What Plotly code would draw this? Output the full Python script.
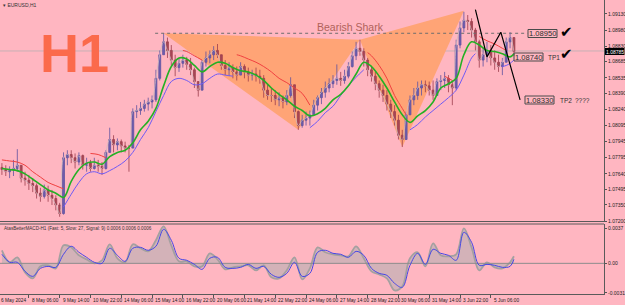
import plotly.graph_objects as go

W, H = 625, 305
BG = "#FFB6C1"

# ---------------- price data (EURUSD H1, grouped in 4-hour buckets) ----------------
bar_high = [1.0774, 1.0772, 1.0771, 1.0777, 1.0787, 1.0771, 1.0766, 1.0763, 1.0760, 1.0755,
            1.0751, 1.0754, 1.0753, 1.0749, 1.0744, 1.0737, 1.0784, 1.0786, 1.0786, 1.0783,
            1.0784, 1.0782, 1.0779, 1.0777, 1.0779, 1.0777, 1.0775, 1.0786, 1.0807, 1.0800,
            1.0797, 1.0796, 1.0794, 1.0791, 1.0825, 1.0828, 1.0831, 1.0833, 1.0835, 1.0837,
            1.0861, 1.0879, 1.0895, 1.0891, 1.0884, 1.0875, 1.0872, 1.0875, 1.0873, 1.0872,
            1.0863, 1.0850, 1.0870, 1.0878, 1.0879, 1.0883, 1.0885, 1.0875, 1.0870, 1.0868,
            1.0866, 1.0864, 1.0868, 1.0866, 1.0863, 1.0861, 1.0863, 1.0861, 1.0856, 1.0847,
            1.0844, 1.0842, 1.0840, 1.0837, 1.0842, 1.0854, 1.0844, 1.0823, 1.0819, 1.0822,
            1.0823, 1.0833, 1.0837, 1.0844, 1.0850, 1.0853, 1.0856, 1.0866, 1.0859, 1.0861,
            1.0868, 1.0878, 1.0887, 1.0889, 1.0881, 1.0872, 1.0864, 1.0859, 1.0851, 1.0847,
            1.0842, 1.0833, 1.0828, 1.0819, 1.0805, 1.0822, 1.0837, 1.0844, 1.0850, 1.0851,
            1.0851, 1.0850, 1.0851, 1.0853, 1.0856, 1.0859, 1.0856, 1.0851, 1.0889, 1.0906,
            1.0915, 1.0912, 1.0909, 1.0900, 1.0889, 1.0881, 1.0887, 1.0884, 1.0879, 1.0875,
            1.0872, 1.0891, 1.0896, 1.0891]
bar_low = [1.0763, 1.0762, 1.0760, 1.0762, 1.0766, 1.0756, 1.0753, 1.0749, 1.0747, 1.0741,
           1.0738, 1.0741, 1.0738, 1.0735, 1.0730, 1.0724, 1.0726, 1.0772, 1.0774, 1.0769,
           1.0772, 1.0768, 1.0766, 1.0766, 1.0768, 1.0766, 1.0763, 1.0768, 1.0784, 1.0784,
           1.0786, 1.0784, 1.0784, 1.0766, 1.0788, 1.0816, 1.0819, 1.0822, 1.0823, 1.0825,
           1.0831, 1.0851, 1.0875, 1.0872, 1.0865, 1.0855, 1.0859, 1.0863, 1.0861, 1.0856,
           1.0844, 1.0836, 1.0842, 1.0864, 1.0867, 1.0870, 1.0872, 1.0861, 1.0856, 1.0855,
           1.0853, 1.0851, 1.0857, 1.0853, 1.0850, 1.0851, 1.0850, 1.0848, 1.0835, 1.0833,
           1.0831, 1.0828, 1.0827, 1.0825, 1.0828, 1.0835, 1.0816, 1.0805, 1.0807, 1.0809,
           1.0809, 1.0819, 1.0823, 1.0829, 1.0835, 1.0840, 1.0844, 1.0847, 1.0846, 1.0848,
           1.0853, 1.0863, 1.0870, 1.0874, 1.0864, 1.0855, 1.0850, 1.0842, 1.0835, 1.0831,
           1.0823, 1.0816, 1.0809, 1.0796, 1.0789, 1.0796, 1.0819, 1.0828, 1.0833, 1.0837,
           1.0840, 1.0837, 1.0833, 1.0837, 1.0842, 1.0844, 1.0840, 1.0828, 1.0842, 1.0881,
           1.0896, 1.0898, 1.0891, 1.0879, 1.0863, 1.0864, 1.0868, 1.0865, 1.0861, 1.0859,
           1.0856, 1.0868, 1.0881, 1.0874]
bar_close = [1.0768, 1.0766, 1.0768, 1.0769, 1.0772, 1.0760, 1.0758, 1.0755, 1.0753, 1.0746,
             1.0743, 1.0749, 1.0744, 1.0741, 1.0735, 1.0727, 1.0779, 1.0782, 1.0779, 1.0775,
             1.0781, 1.0772, 1.0774, 1.0769, 1.0772, 1.0771, 1.0769, 1.0784, 1.0796, 1.0791,
             1.0794, 1.0790, 1.0788, 1.0788, 1.0822, 1.0823, 1.0825, 1.0829, 1.0831, 1.0833,
             1.0853, 1.0875, 1.0887, 1.0879, 1.0870, 1.0863, 1.0867, 1.0870, 1.0866, 1.0861,
             1.0850, 1.0842, 1.0868, 1.0872, 1.0875, 1.0879, 1.0875, 1.0865, 1.0861, 1.0863,
             1.0859, 1.0856, 1.0864, 1.0859, 1.0856, 1.0857, 1.0855, 1.0853, 1.0842, 1.0837,
             1.0837, 1.0833, 1.0835, 1.0831, 1.0837, 1.0847, 1.0822, 1.0809, 1.0814, 1.0816,
             1.0819, 1.0828, 1.0835, 1.0840, 1.0844, 1.0848, 1.0851, 1.0853, 1.0851, 1.0855,
             1.0864, 1.0874, 1.0881, 1.0878, 1.0870, 1.0861, 1.0855, 1.0848, 1.0842, 1.0837,
             1.0829, 1.0822, 1.0814, 1.0800, 1.0796, 1.0819, 1.0833, 1.0837, 1.0844, 1.0847,
             1.0846, 1.0842, 1.0837, 1.0850, 1.0851, 1.0853, 1.0847, 1.0844, 1.0884, 1.0900,
             1.0907, 1.0906, 1.0898, 1.0887, 1.0870, 1.0875, 1.0879, 1.0872, 1.0868, 1.0864,
             1.0868, 1.0887, 1.0891, 1.0878]
first_open = 1.0770

# ---------------- moving averages / bands ----------------
ma_bar = [0, 2, 4, 6, 8, 10, 12, 14, 16, 18, 20, 22, 24, 26, 28, 30, 32, 34, 36, 38,
          40, 42, 44, 46, 48, 50, 52, 54, 56, 58, 60, 62, 64, 66, 68, 70, 72, 74, 76, 78,
          80, 82, 84, 86, 88, 90, 92, 94, 96, 98, 100, 102, 104, 106, 108, 110, 112, 114,
          116, 118, 120, 122, 124, 126, 128, 130, 132, 133]
ma_green = [1.0769, 1.0768, 1.0767, 1.0764, 1.0759, 1.0754, 1.0749, 1.0746, 1.0742, 1.0757,
            1.0768, 1.0774, 1.0775, 1.0773, 1.0780, 1.0784, 1.0786, 1.0793, 1.0805, 1.0813,
            1.0825, 1.0846, 1.0864, 1.0872, 1.0871, 1.0865, 1.0859, 1.0864, 1.0868, 1.0867,
            1.0863, 1.0860, 1.0859, 1.0856, 1.0851, 1.0844, 1.0838, 1.0833, 1.0827, 1.0823,
            1.0818, 1.0820, 1.0825, 1.0833, 1.0838, 1.0846, 1.0857, 1.0868, 1.0864, 1.0855,
            1.0844, 1.0831, 1.0819, 1.0812, 1.0818, 1.0823, 1.0831, 1.0844, 1.0848, 1.0853,
            1.0875, 1.0887, 1.0884, 1.0879, 1.0878, 1.0876, 1.0873, 1.0876]

band_red_bar = [0, 2, 4, 6, 8, 10, 12, 14, 16, None,
                23, 25, 27, None,
                47, 48, 50, 52, None,
                61, 62, 64, 66, 68, 70, 72, 74, 76, 78, 80, None,
                95, 96, 98, 100, 102, 104, 105, None,
                115, 116, 117, None,
                124, 126, 128, 130, 131]
band_red = [1.0777, 1.0776, 1.0775, 1.0772, 1.0766, 1.0761, 1.0756, 1.0753, 1.0750, None,
            1.0783, 1.0782, 1.0779, None,
            1.0879, 1.0878, 1.0874, 1.0870, None,
            1.0875, 1.0874, 1.0871, 1.0868, 1.0864, 1.0859, 1.0853, 1.0849, 1.0844, 1.0839, 1.0828, None,
            1.0877, 1.0874, 1.0865, 1.0853, 1.0837, 1.0825, 1.0819, None,
            1.0855, 1.0853, 1.0851, None,
            1.0892, 1.0888, 1.0885, 1.0881, 1.0879]

band_blue_bar = [16, 18, 20, 22, 24, 26, 28, 30, 32, 34, 36, 38, 40, 42, 44, 46, 48, 50,
                 52, 54, 56, 58, 60, None,
                 80, 82, 84, 86, 88, 90, 92, 94, None,
                 106, 108, 110, 112, 114, 116, 118, 120, 122, 123, None,
                 130, 131, 132, 133]
band_blue = [1.0733, 1.0745, 1.0756, 1.0764, 1.0766, 1.0764, 1.0767, 1.0771, 1.0776, 1.0784,
             1.0796, 1.0807, 1.0822, 1.0837, 1.0850, 1.0853, 1.0851, 1.0847, 1.0848, 1.0853,
             1.0857, 1.0856, 1.0855, None,
             1.0807, 1.0813, 1.0821, 1.0827, 1.0837, 1.0846, 1.0854, 1.0861, None,
             1.0805, 1.0810, 1.0817, 1.0823, 1.0829, 1.0835, 1.0842, 1.0856, 1.0872, 1.0876, None,
             1.0864, 1.0865, 1.0867, 1.0870]

# ---------------- MACD sub-window ----------------
macd_main = [0.00095, 0.00011, 0.00011, -0.00084, -0.00137, -0.00053, -0.00032, -0.00042, 0.00095, 0.00179,
             0.00116, 0.00063, 0.00011, 0.0, 0.00158, 0.00084, 0.00021, 0.00158, 0.00168, 0.00137,
             0.00179, 0.00357, 0.00242, 0.00053, 0.00032, -0.00011, -0.00063, 0.00053, 0.00063, -0.00042,
             -0.00053, -0.00042, -0.00011, -0.00053, -0.00032, -0.00116, -0.00147, -0.00105, 0.00011, -0.00137,
             -0.00105, 0.00116, 0.00137, 0.00105, 0.00095, 0.00063, 0.00126, 0.00084, -0.00053, -0.00105,
             -0.00126, -0.0021, -0.00252, -0.00021, 0.00105, -0.00011, 0.00147, 0.00105, 0.00084, 0.00032,
             0.00326, 0.00221, -0.00021, -0.00011, -0.00021, -0.00042, -0.00032, 0.00042]
macd_signal = [0.00137, 0.00011, 0.00063, -0.00095, -0.00158, -0.00032, -0.00021, -0.00053, 0.00189, 0.00168,
               0.00084, 0.00042, 0.0, 0.00032, 0.0020, 0.00053, 0.00011, 0.0020, 0.00158, 0.00126,
               0.00242, 0.00389, 0.00189, 0.00021, 0.00021, -0.00032, -0.00032, 0.00105, 0.00042, -0.00063,
               -0.00042, -0.00032, -0.00021, -0.00074, -0.00021, -0.00147, -0.00158, -0.00074, 0.00063, -0.00168,
               -0.00053, 0.00168, 0.00116, 0.00095, 0.00084, 0.00074, 0.00179, 0.00053, -0.00084, -0.00116,
               -0.00158, -0.00284, -0.00242, 0.00053, 0.00116, -0.00032, 0.0021, 0.00084, 0.00074, 0.00095,
               0.00368, 0.00168, -0.00074, 0.00011, -0.00042, -0.00053, 0.00011, 0.00074]

# ---------------- pattern drawing ----------------
pattern_bar = [42, 77, 93, 104, 120]                      # X, A, B, C, D
pattern_price = [1.0895, 1.0805, 1.0889, 1.0789, 1.0916]
proj_bar = [123, 126, 129.6, 134.6]
proj_price = [1.0917, 1.0873, 1.0896, 1.0833]
level_start_bar = 39.8
level_end_bar = 136.5
target_prices = [1.08950, 1.08740, 1.08330]
current_price = 1.08785

price_ticks = [1.09130, 1.08980, 1.08830, 1.08685, 1.08535, 1.08390, 1.08240,
               1.08095, 1.07945, 1.07795, 1.07640, 1.07495, 1.07350, 1.07200]
macd_ticks = [0.0037, 0.0, -0.0031]
macd_tick_text = ["0.0037", "0.00", "-0.0031"]
time_tick_bar = [7, 15, 23, 31, 39, 47, 55, 63, 71, 79, 87, 95, 103, 111, 119, 127]
time_tick_text = ["8 May 06:00", "9 May 14:00", "10 May 22:00", "14 May 06:00", "15 May 14:00",
                  "16 May 22:00", "20 May 06:00", "21 May 14:00", "22 May 22:00", "24 May 06:00",
                  "27 May 14:00", "28 May 22:00", "30 May 06:00", "31 May 14:00", "3 Jun 22:00",
                  "5 Jun 06:00"]

# ---------------- geometry helpers ----------------
PLOT_R = 604.0
X_RANGE = [-0.5, 156.4]
Y_RANGE = [1.07196, 1.09260]
M_RANGE = [-0.00322, 0.00413]


def fx(px):
    return px / W


def fy(py):
    return 1 - py / H


def bar_to_px(b):
    return (b - X_RANGE[0]) / (X_RANGE[1] - X_RANGE[0]) * PLOT_R


n = len(bar_close)
bars = list(range(n))
bar_open = [first_open] + bar_close[:-1]
hi = [max(h, o, c) for h, o, c in zip(bar_high, bar_open, bar_close)]
lo = [min(l, o, c) for l, o, c in zip(bar_low, bar_open, bar_close)]

fig = go.Figure()

# dotted X level
fig.add_trace(go.Scatter(x=[level_start_bar, level_end_bar], y=[target_prices[0]] * 2,
                         mode="lines", line=dict(color="#6e6e6e", width=1, dash="dot"),
                         hoverinfo="skip"))

# candles
fig.add_trace(go.Candlestick(
    x=bars, open=bar_open, high=hi, low=lo, close=bar_close,
    increasing=dict(line=dict(color="#5e50a0", width=0.8), fillcolor="#6e5eae"),
    decreasing=dict(line=dict(color="#9c3e4c", width=0.8), fillcolor="#a84856"),
    whiskerwidth=0, hoverinfo="skip", yaxis="y"))

# fast line through closes
fig.add_trace(go.Scatter(x=bars, y=bar_close, mode="lines",
                         line=dict(color="rgba(205,185,192,0.8)", width=1, shape="spline"),
                         hoverinfo="skip"))
# bands and green MA
fig.add_trace(go.Scatter(x=band_red_bar, y=band_red, mode="lines", connectgaps=False,
                         line=dict(color="#f04040", width=1, shape="spline"), hoverinfo="skip"))
fig.add_trace(go.Scatter(x=band_blue_bar, y=band_blue, mode="lines", connectgaps=False,
                         line=dict(color="#6f5af5", width=1, shape="spline"), hoverinfo="skip"))
fig.add_trace(go.Scatter(x=ma_bar, y=ma_green, mode="lines",
                         line=dict(color="#24b024", width=1.6, shape="spline"), hoverinfo="skip"))

# projection zigzag
fig.add_trace(go.Scatter(x=proj_bar, y=proj_price, mode="lines",
                         line=dict(color="#000000", width=1.2), hoverinfo="skip"))

# MACD
fig.add_trace(go.Scatter(x=ma_bar, y=macd_signal, yaxis="y2", mode="lines", fill="tozeroy",
                         fillcolor="rgba(196,176,180,0.75)",
                         line=dict(color="#a4a0a0", width=1.8, shape="spline"), hoverinfo="skip"))
fig.add_trace(go.Scatter(x=[X_RANGE[0], X_RANGE[1]], y=[0, 0], yaxis="y2", mode="lines",
                         line=dict(color="#8c8c8c", width=1), hoverinfo="skip"))
fig.add_trace(go.Scatter(x=ma_bar, y=macd_main, yaxis="y2", mode="lines",
                         line=dict(color="#4646e6", width=1, shape="spline"), hoverinfo="skip"))

TICKFONT = dict(family="Liberation Sans", size=5, color="#222222")

fig.update_layout(
    width=W, height=H, margin=dict(l=0, r=0, t=0, b=0),
    paper_bgcolor=BG, plot_bgcolor=BG, showlegend=False,
    xaxis=dict(domain=[0, PLOT_R / W], range=X_RANGE, anchor="y2", showgrid=False,
               zeroline=False, rangeslider=dict(visible=False), tickvals=time_tick_bar,
               ticktext=[""] * len(time_tick_bar), ticks="outside", ticklen=3,
               tickcolor="#555555", showline=True, linecolor="#5a5a5a", linewidth=1),
    yaxis=dict(domain=[fy(221.5), 1], range=Y_RANGE, side="right", anchor="x",
               showgrid=False, zeroline=False, tickvals=price_ticks,
               ticktext=["%.5f" % v for v in price_ticks], ticks="outside", ticklen=2,
               tickcolor="#555555", tickfont=TICKFONT, showline=True, linecolor="#5a5a5a",
               automargin=False),
    yaxis2=dict(domain=[fy(294), fy(224)], range=M_RANGE, side="right", anchor="x",
                showgrid=False, zeroline=False, tickvals=macd_ticks, ticktext=macd_tick_text,
                ticks="outside", ticklen=2, tickcolor="#555555", tickfont=TICKFONT,
                showline=True, linecolor="#5a5a5a", automargin=False),
)

shapes = []
# harmonic pattern triangles, drawn beneath the candles
for tri in [(0, 1, 2), (2, 3, 4)]:
    pts = [(pattern_bar[k], pattern_price[k]) for k in tri]
    path = "M %s,%s L %s,%s L %s,%s Z" % (pts[0] + pts[1] + pts[2])
    shapes.append(dict(type="path", path=path, xref="x", yref="y", layer="below",
                       fillcolor="#FFA476", line=dict(width=0)))
# current price line
shapes.append(dict(type="line", xref="paper", yref="y", x0=0, x1=fx(PLOT_R),
                   y0=current_price, y1=current_price, layer="below",
                   line=dict(color="#c7b0b4", width=1)))
for yy in (221.5, 224):
    shapes.append(dict(type="line", xref="paper", yref="paper", x0=0, x1=fx(PLOT_R),
                       y0=fy(yy), y1=fy(yy), line=dict(color="#5a5a5a", width=1)))
# target boxes
box_geo = [(528, 557, 29.5, 37.5), (514, 543, 53, 61), (525, 554, 96, 104)]
for (x0, x1, y0, y1) in box_geo:
    shapes.append(dict(type="rect", xref="paper", yref="paper", x0=fx(x0), x1=fx(x1),
                       y0=fy(y1), y1=fy(y0), line=dict(color="#4a4a4a", width=1)))
# current price tag
shapes.append(dict(type="rect", xref="paper", yref="paper", x0=fx(605), x1=fx(624.5),
                   y0=fy(55), y1=fy(48), fillcolor="#000000", line=dict(width=0)))
fig.update_layout(shapes=shapes)

ann = []
ann.append(dict(text="<b>H1</b>", x=fx(38), y=fy(53), xanchor="left", yanchor="middle",
                font=dict(family="Liberation Sans", size=54, color="#FB6A4C")))
ann.append(dict(text="Bearish Shark", x=fx(350), y=fy(27), xanchor="center", yanchor="middle",
                font=dict(family="Liberation Sans", size=10.5, color="#b0625a")))
ann.append(dict(text="\u25be EURUSD,H1", x=fx(1), y=fy(4.5), xanchor="left", yanchor="middle",
                font=dict(family="Liberation Sans", size=5, color="#333333")))
ann.append(dict(text="AtasBetterMACD-H1 (Fast: 5, Slow: 27, Signal: 9) 0.0006 0.0006 0.0006",
                x=fx(1.5), y=fy(228.5), xanchor="left", yanchor="middle",
                font=dict(family="Liberation Sans", size=4.6, color="#333333")))
for (x0, x1, y0, y1), p in zip(box_geo, target_prices):
    ann.append(dict(text="%.5f" % p, x=fx((x0 + x1) / 2), y=fy((y0 + y1) / 2 + 0.3),
                    xanchor="center", yanchor="middle",
                    font=dict(family="Liberation Sans", size=7.6, color="#2e2e2e")))
ann.append(dict(text="TP1", x=fx(546), y=fy(57.3), xanchor="left", yanchor="middle",
                font=dict(family="Liberation Sans", size=6.5, color="#333333")))
ann.append(dict(text="TP2", x=fx(557.5), y=fy(100.3), xanchor="left", yanchor="middle",
                font=dict(family="Liberation Sans", size=6.5, color="#333333")))
ann.append(dict(text="????", x=fx(573), y=fy(100.3), xanchor="left", yanchor="middle",
                font=dict(family="Liberation Sans", size=6.5, color="#333333")))
for cy in (32, 54):
    ann.append(dict(text="\u2714", x=fx(558), y=fy(cy), xanchor="left", yanchor="middle",
                    font=dict(family="DejaVu Sans", size=15, color="#000000")))
ann.append(dict(text="%.5f" % current_price, x=fx(614.8), y=fy(51.6), xanchor="center",
                yanchor="middle", font=dict(family="Liberation Sans", size=5, color="#ffffff")))
# time labels (left-aligned at their tick, as in the terminal)
ann.append(dict(text="6 May 2024", x=fx(-1.5), y=fy(300), xanchor="left", yanchor="middle",
                font=dict(family="Liberation Sans", size=4.8, color="#222222")))
for b, t in zip(time_tick_bar, time_tick_text):
    ann.append(dict(text=t, x=fx(bar_to_px(b) + 1), y=fy(300), xanchor="left",
                    yanchor="middle", font=dict(family="Liberation Sans", size=4.8,
                                                color="#222222")))
for a in ann:
    a.update(xref="paper", yref="paper", showarrow=False)
fig.update_layout(annotations=ann)

fig.write_html("out.html")
